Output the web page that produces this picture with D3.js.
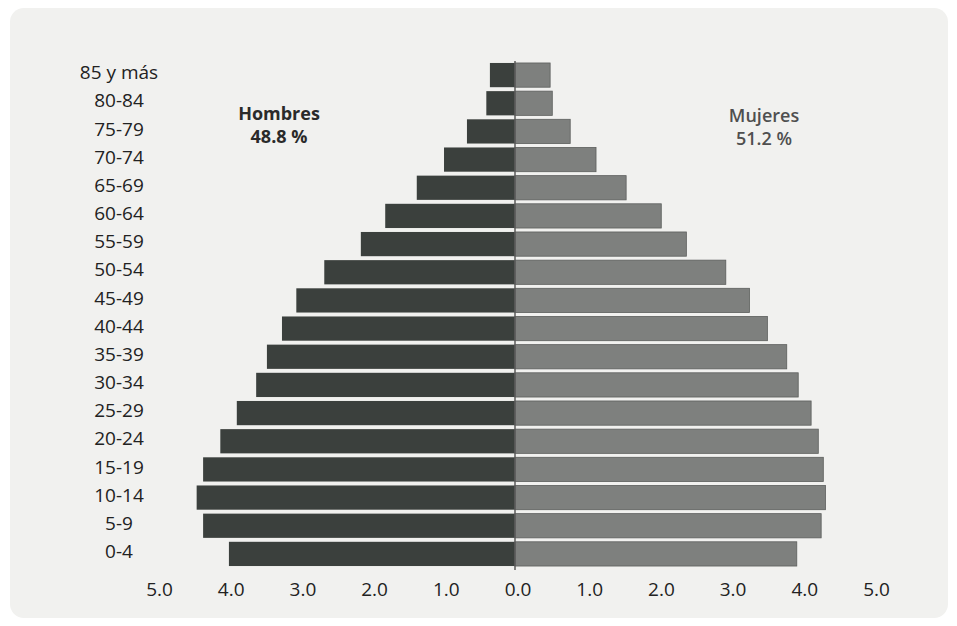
<!DOCTYPE html>
<html>
<head>
<meta charset="utf-8">
<script src="https://cdn.jsdelivr.net/npm/d3@7.9.0/dist/d3.min.js"></script>
<style>
  html, body { margin: 0; padding: 0; background: #ffffff; }
  svg { display: block; font-family: "Open Sans", "Liberation Sans", sans-serif; }
</style>
</head>
<body>
<svg width="957" height="626"></svg>
<script>
// age groups, top to bottom
const ageGroups = ['85 y más', '80-84', '75-79', '70-74', '65-69', '60-64', '55-59', '50-54',
  '45-49', '40-44', '35-39', '30-34', '25-29', '20-24', '15-19', '10-14', '5-9', '0-4'];

// percent of total population
const hombres = [0.35, 0.40, 0.67, 0.99, 1.37, 1.81, 2.15, 2.66, 3.05, 3.25, 3.46, 3.61, 3.88, 4.11, 4.35, 4.44, 4.35, 3.99];
const mujeres = [0.49, 0.52, 0.77, 1.13, 1.55, 2.04, 2.39, 2.94, 3.27, 3.52, 3.79, 3.95, 4.13, 4.23, 4.30, 4.33, 4.27, 3.93];

const tickValues = [-5, -4, -3, -2, -1, 0, 1, 2, 3, 4, 5];

const svg = d3.select('svg');

// scanned paper panel
svg.append('rect')
  .attr('x', 10).attr('y', 8)
  .attr('width', 938).attr('height', 610)
  .attr('rx', 14)
  .attr('fill', '#f1f1ef');

const x = d3.scaleLinear().domain([-5, 5]).range([156.5, 873.5]);
const y = d3.scaleBand().domain(ageGroups).range([61, 568]).paddingInner(0.14).paddingOuter(0.07);

// male bars (left)
svg.append('g').selectAll('rect')
  .data(ageGroups)
  .join('rect')
  .attr('x', (d, i) => x(-hombres[i]))
  .attr('y', d => y(d))
  .attr('width', (d, i) => x(0) - x(-hombres[i]))
  .attr('height', y.bandwidth())
  .attr('fill', '#3b403d');

// female bars (right)
svg.append('g').selectAll('rect')
  .data(ageGroups)
  .join('rect')
  .attr('x', x(0))
  .attr('y', d => y(d))
  .attr('width', (d, i) => x(mujeres[i]) - x(0))
  .attr('height', y.bandwidth())
  .attr('fill', '#7e807e')
  .attr('stroke', '#5c5e5c')
  .attr('stroke-width', 0.8);

// center axis line
svg.append('line')
  .attr('x1', x(0)).attr('x2', x(0))
  .attr('y1', y.range()[0]).attr('y2', y.range()[1] + 2)
  .attr('stroke', '#5a5a5a')
  .attr('stroke-width', 1.5);

// age labels
svg.append('g').selectAll('text')
  .data(ageGroups)
  .join('text')
  .attr('x', 119)
  .attr('y', d => y(d) + y.bandwidth() / 2)
  .attr('dy', '0.22em')
  .attr('text-anchor', 'middle')
  .attr('font-size', 19)
  .attr('fill', '#222')
  .text(d => d);

// x tick labels
svg.append('g').selectAll('text')
  .data(tickValues)
  .join('text')
  .attr('x', d => x(d) + 3)
  .attr('y', 596)
  .attr('text-anchor', 'middle')
  .attr('font-size', 19)
  .attr('fill', '#222')
  .text(d => d3.format('.1f')(Math.abs(d)));

// series labels
const titles = [
  { x: 279, lines: ['Hombres', '48.8 %'], weight: 'bold', color: '#2a2a2a', y0: 120 },
  { x: 764, lines: ['Mujeres', '51.2 %'], weight: 600, color: '#4f4f4f', y0: 122 }
];
titles.forEach(t => {
  const txt = svg.append('text')
    .attr('text-anchor', 'middle')
    .attr('font-size', 18)
    .attr('font-weight', t.weight)
    .attr('fill', t.color);
  t.lines.forEach((l, i) => {
    txt.append('tspan').attr('x', t.x).attr('y', t.y0 + i * 23).text(l);
  });
});
</script>
</body>
</html>
